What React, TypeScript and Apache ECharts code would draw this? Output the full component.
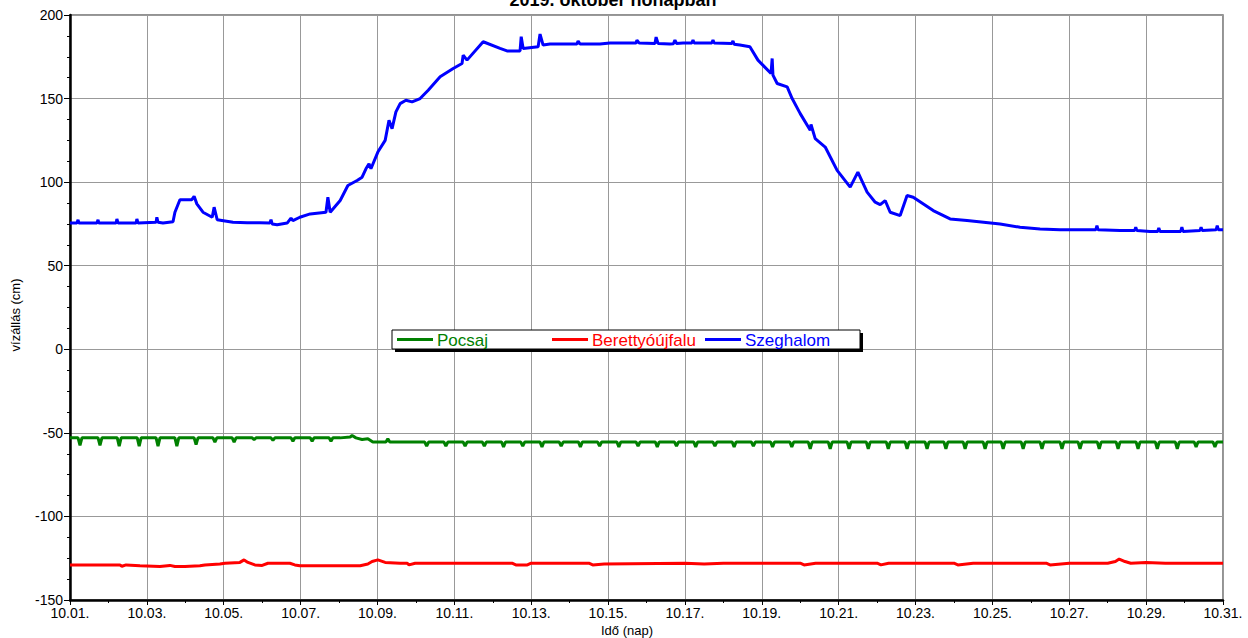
import React, { useEffect, useRef } from "react";
import * as echarts from "echarts";

// day offset from 10.01 (0 = Oct 1) and water level in cm
const xTickLabels = ["10.01.", "10.03.", "10.05.", "10.07.", "10.09.", "10.11.", "10.13.", "10.15.", "10.17.", "10.19.", "10.21.", "10.23.", "10.25.", "10.27.", "10.29.", "10.31."];

const szeghalom: [number, number][] = [
  [0, 75.5], [0.18, 75.5], [0.21, 77.5], [0.23, 75.5], [0.7, 75.5], [0.73, 77.5], [0.75, 75.5],
  [1.2, 75.5], [1.22, 78], [1.25, 75.5], [1.72, 75.5], [1.74, 78], [1.77, 75.5],
  [2.24, 76], [2.26, 79], [2.29, 76], [2.42, 75.5], [2.68, 76.3], [2.73, 82], [2.86, 89.5],
  [3.17, 89.5], [3.23, 91.5], [3.3, 87], [3.46, 82], [3.7, 79], [3.75, 85], [3.83, 77.5],
  [4.24, 76], [4.61, 75.7], [4.94, 75.7], [5.2, 75.5], [5.23, 77.5], [5.26, 75], [5.39, 74.5],
  [5.65, 75.5], [5.75, 78.5], [5.8, 77], [5.98, 79], [6.25, 81], [6.66, 82], [6.71, 91], [6.77, 82],
  [7.03, 89], [7.23, 98], [7.47, 101], [7.6, 103], [7.7, 108], [7.78, 111], [7.83, 108],
  [8.01, 118], [8.2, 125], [8.3, 137], [8.38, 132], [8.48, 142], [8.59, 147], [8.74, 149],
  [8.9, 148], [9.11, 150], [9.32, 155], [9.63, 163], [9.97, 168], [10.2, 171], [10.23, 176],
  [10.33, 173], [10.75, 184], [11.19, 180], [11.37, 178.5], [11.71, 178.5], [11.74, 187],
  [11.79, 180], [12.18, 181], [12.23, 188.6], [12.31, 182], [12.49, 182.6], [13.19, 182.6],
  [13.22, 184.5], [13.27, 182.6], [13.79, 182.6], [14.05, 183.2], [14.73, 183.2], [14.75, 185],
  [14.81, 183.2], [15.22, 183], [15.25, 186.8], [15.3, 183], [15.61, 182.6], [15.7, 182.8],
  [15.74, 185], [15.78, 183], [15.95, 183.2], [16.18, 183.2], [16.21, 185], [16.24, 183.2],
  [16.7, 183.2], [16.73, 185], [16.76, 183.2], [17.22, 183], [17.25, 184.5], [17.28, 182.5],
  [17.43, 182], [17.69, 181], [17.9, 173], [18.24, 165], [18.27, 174], [18.29, 164],
  [18.4, 159], [18.66, 157], [18.79, 150], [19.0, 141], [19.26, 131], [19.28, 134.5],
  [19.39, 126], [19.65, 121], [19.96, 107], [20.3, 97], [20.5, 106], [20.74, 94], [20.95, 88],
  [21.08, 86.5], [21.21, 89], [21.34, 82], [21.6, 80], [21.78, 92], [21.94, 91], [22.46, 83],
  [22.9, 78], [23.34, 77], [24.2, 75], [24.72, 73], [25.24, 72], [25.76, 71.5], [26.28, 71.5],
  [26.69, 71.5], [26.72, 74], [26.75, 71.5], [27.32, 71], [27.7, 71], [27.73, 73], [27.76, 71],
  [28.1, 70.5], [28.3, 70.5], [28.33, 72.5], [28.36, 70.5], [28.9, 70.5], [28.93, 73], [28.96, 70.5],
  [29.4, 71], [29.43, 73], [29.46, 71], [29.82, 71.5], [29.85, 74], [29.88, 71.5], [30, 71.5],
];

const pocsajBase: [number, number][] = [
  [0, -53], [7.03, -53], [7.29, -52.5], [7.34, -51.6], [7.44, -53], [7.6, -54], [7.75, -53.5],
  [7.88, -55.5], [8.22, -55.5], [8.27, -53.5], [8.32, -55.5], [30, -55.5],
];

const pocsajSpikes: [number, number][] = [
  [0.26, -57.5], [0.78, -57.5], [1.28, -58], [1.8, -58], [2.29, -58], [2.78, -58], [3.28, -57],
  [3.77, -55.5], [4.27, -55.5], [4.79, -54], [5.28, -54.5], [5.8, -55], [6.3, -55], [6.79, -55],
  [9.28, -58], [9.78, -58], [10.28, -58], [10.78, -58], [11.28, -58.5], [11.78, -58],
  [12.28, -58.5], [12.78, -58], [13.28, -58.5], [13.78, -58], [14.28, -58.5], [14.78, -58],
  [15.28, -58.5], [15.78, -58], [16.28, -58.5], [16.78, -58], [17.28, -58.5], [17.78, -58],
  [18.28, -58.5], [18.78, -58.5], [19.26, -59.5], [19.78, -59.5], [20.27, -59.5], [20.77, -59.5],
  [21.29, -59.5], [21.78, -59.5], [22.3, -59.5], [22.79, -59.5], [23.29, -59.5], [23.81, -59.5],
  [24.28, -59.5], [24.8, -59.5], [25.29, -59.5], [25.81, -59.5], [26.28, -59.5], [26.78, -59.5],
  [27.27, -59.5], [27.79, -59.5], [28.29, -59.5], [28.81, -59.5], [29.3, -58.5], [29.79, -58.5],
];

const berettyoujfalu: [number, number][] = [
  [0, -129], [1.3, -129], [1.35, -129.8], [1.46, -129], [1.82, -129.5], [2.34, -130],
  [2.6, -129.3], [2.73, -130], [2.99, -130], [3.38, -129.5], [3.51, -129], [3.9, -128.5],
  [4.03, -128], [4.42, -127.5], [4.53, -126], [4.63, -127.5], [4.81, -129], [5.0, -129.3],
  [5.15, -128], [5.72, -128], [5.85, -129], [5.98, -129.5], [7.55, -129.5], [7.75, -128.5],
  [7.86, -127], [8.01, -126], [8.2, -127.5], [8.59, -128], [8.77, -128], [8.82, -129],
  [8.98, -128], [11.5, -128], [11.6, -129], [11.9, -129], [12.0, -128], [13.5, -128],
  [13.6, -129], [13.9, -128.5], [16.0, -128], [16.5, -128.5], [17.0, -128], [19.0, -128],
  [19.1, -129], [19.4, -128], [21.0, -128], [21.1, -129], [21.3, -128], [23.0, -128],
  [23.1, -129], [23.5, -128], [25.4, -128], [25.5, -129], [26.0, -128], [27.0, -128],
  [27.2, -127], [27.3, -125.5], [27.45, -127], [27.6, -128], [28.0, -127.5], [28.5, -128],
  [30, -128],
];

function baseAt(base: [number, number][], t: number): number {
  for (let i = 1; i < base.length; i++) {
    const [t0, v0] = base[i - 1];
    const [t1, v1] = base[i];
    if (t >= t0 && t <= t1) return v0 + ((v1 - v0) * (t - t0)) / (t1 - t0 || 1);
  }
  return base[base.length - 1][1];
}

function withSpikes(base: [number, number][], spikes: [number, number][]): [number, number][] {
  const pts: [number, number][] = [...base];
  spikes.forEach(([t, v]) => {
    pts.push([t - 0.05, baseAt(base, t - 0.05)]);
    pts.push([t, v]);
    pts.push([t + 0.05, baseAt(base, t + 0.05)]);
  });
  return pts.sort((a, b) => a[0] - b[0]);
}

const FONT = "'Liberation Sans', Arial, sans-serif";

export default function App() {
  const ref = useRef<HTMLDivElement>(null);
  useEffect(() => {
    if (!ref.current) return;
    const chart = echarts.init(ref.current, undefined, { renderer: "svg" });
    const legendItems = [
      { name: "Pocsaj", color: "#008000", x: 397 },
      { name: "Berettyóújfalu", color: "#ff0000", x: 552 },
      { name: "Szeghalom", color: "#0000ff", x: 705 },
    ];
    const legendGraphics: any[] = [
      { type: "rect", shape: { x: 395, y: 333, width: 468, height: 19 }, style: { fill: "#000" }, z: 100 },
      { type: "rect", shape: { x: 392, y: 330, width: 468, height: 19 }, style: { fill: "#fff", stroke: "#000", lineWidth: 1 }, z: 101 },
    ];
    legendItems.forEach((it) => {
      legendGraphics.push({ type: "line", shape: { x1: it.x, y1: 339.5, x2: it.x + 36, y2: 339.5 }, style: { stroke: it.color, lineWidth: 3 }, z: 102 });
      legendGraphics.push({ type: "text", x: it.x + 40, y: 340, style: { text: it.name, fill: it.color, font: `17px ${FONT}`, verticalAlign: "middle" }, z: 102 });
    });
    chart.setOption({
      animation: false,
      grid: { left: 70, right: 25, top: 15, bottom: 38, show: true, borderColor: "#707070", borderWidth: 1.5, backgroundColor: "transparent" },
      xAxis: {
        type: "value", min: 0, max: 30, interval: 2,
        axisLine: { lineStyle: { color: "#000", width: 2.5 }, onZero: false },
        axisTick: { show: true, length: 5, lineStyle: { color: "#000" } },
        minorTick: { show: true, splitNumber: 2, length: 3, lineStyle: { color: "#000" } },
        axisLabel: { color: "#000", fontSize: 14, fontFamily: FONT, margin: 6, formatter: (v: number) => xTickLabels[Math.round(v / 2)] ?? "" },
        splitLine: { show: true, lineStyle: { color: "#999999", width: 1 } },
      },
      yAxis: {
        type: "value", min: -150, max: 200, interval: 50,
        axisLine: { show: true, lineStyle: { color: "#000", width: 2.5 } },
        axisTick: { show: true, length: 6, lineStyle: { color: "#000" } },
        minorTick: { show: true, splitNumber: 4, length: 3, lineStyle: { color: "#000" } },
        axisLabel: { color: "#000", fontSize: 14, fontFamily: FONT, margin: 7 },
        splitLine: { show: true, lineStyle: { color: "#999999", width: 1 } },
      },
      series: [
        { name: "Pocsaj", type: "line", data: withSpikes(pocsajBase, pocsajSpikes), showSymbol: false, lineStyle: { color: "#008000", width: 3 }, z: 3 },
        { name: "Berettyóújfalu", type: "line", data: berettyoujfalu, showSymbol: false, lineStyle: { color: "#ff0000", width: 3 }, z: 3 },
        { name: "Szeghalom", type: "line", data: szeghalom, showSymbol: false, lineStyle: { color: "#0000ff", width: 3 }, z: 3 },
      ],
      graphic: [
        { type: "text", x: 613, y: 9, style: { text: "2019. október hónapban", fill: "#000", font: `bold 18px ${FONT}`, align: "center", verticalAlign: "bottom" }, z: 100 },
        { type: "text", x: 15, y: 315, rotation: Math.PI / 2, style: { text: "vízállás (cm)", fill: "#000", font: `13px ${FONT}`, align: "center", verticalAlign: "middle" } },
        { type: "text", x: 627, y: 630, style: { text: "Idő (nap)", fill: "#000", font: `13px ${FONT}`, align: "center", verticalAlign: "middle" } },
        ...legendGraphics,
      ],
    });
    return () => chart.dispose();
  }, []);
  return <div ref={ref} style={{ position: "fixed", left: 0, top: 0, width: 1248, height: 638, background: "#fff" }} />;
}
